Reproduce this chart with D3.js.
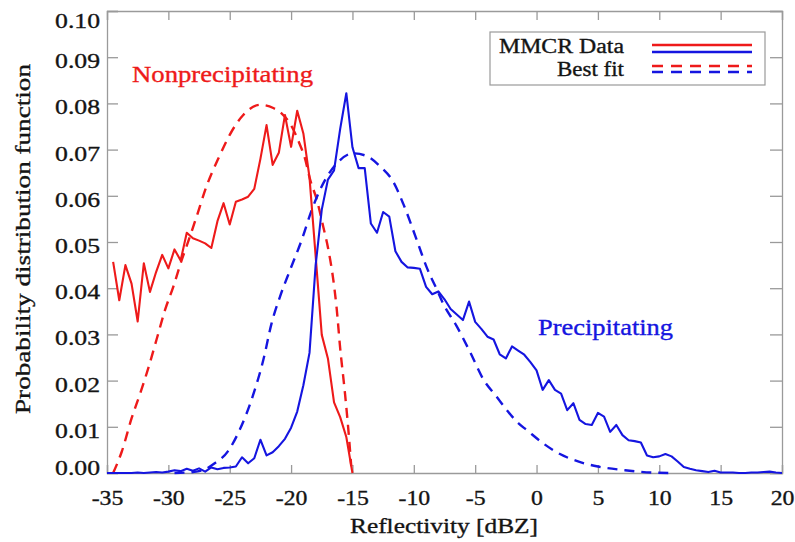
<!DOCTYPE html>
<html><head><meta charset="utf-8">
<script src="https://cdn.jsdelivr.net/npm/d3@7"></script>
<style>
body{margin:0;background:#fff}
svg{display:block}
text{font-family:"Liberation Serif","Times New Roman",serif}
</style>
</head><body>
<svg id="chart" width="795" height="542"></svg>
<script>
// ---- data ----
const xTickValues = [-35,-30,-25,-20,-15,-10,-5,0,5,10,15,20];
const yTickValues = [0,0.01,0.02,0.03,0.04,0.05,0.06,0.07,0.08,0.09,0.10];

const redZ = [-34.5,-34,-33.5,-33,-32.5,-32,-31.5,-31,-30.5,-30,-29.5,-29,-28.5,-28,-27.5,-27,-26.5,-26,-25.5,-25,
  -24.5,-24,-23.5,-23,-22.5,-22,-21.5,-21,-20.5,-20,-19.5,-19,-18.5,-18,-17.5,-17,-16.5,-16,-15.5,-15];
const redPdf = [0.0457,0.0374,0.0450,0.0410,0.0328,0.0454,0.0392,0.0435,0.0472,0.0443,0.0484,0.0460,0.0520,0.0508,0.0503,0.0497,0.0487,0.0545,0.0584,0.0538,
  0.0587,0.0592,0.0598,0.0615,0.0680,0.0753,0.0667,0.0693,0.0775,0.0706,0.0784,0.0735,0.0640,0.0470,0.0299,0.0248,0.0153,0.0121,0.0078,0.0000];

const blueZ = [-35,-34.5,-34,-33.5,-33,-32.5,-32,-31.5,-31,-30.5,-30,-29.5,-29,-28.5,-28,-27.5,-27,-26.5,-26,-25.5,
  -25,-24.5,-24,-23.5,-23,-22.5,-22,-21.5,-21,-20.5,-20,-19.5,-19,-18.5,-18,-17.5,-17,-16.5,-16,-15.5,
  -15,-14.5,-14,-13.5,-13,-12.5,-12,-11.5,-11,-10.5,-10,-9.5,-9,-8.5,-8,-7.5,-7,-6.5,-6,-5.5,
  -5,-4.5,-4,-3.5,-3,-2.5,-2,-1.5,-1,-0.5,0,0.5,1,1.5,2,2.5,3,3.5,4,4.5,
  5,5.5,6,6.5,7,7.5,8,8.5,9,9.5,10,10.5,11,11.5,12,12.5,13,13.5,14,14.5,
  15,15.5,16,16.5,17,17.5,18,18.5,19,19.5,20];
const bluePdf = [0,0,0,0,0,0.0001,0,0.0001,0.0002,0.0001,0.0003,0.0006,0.0004,0.0009,0.0005,0.0010,0.0003,0.0012,0.0008,0.0011,
  0.0012,0.0014,0.0034,0.0021,0.0032,0.0072,0.0038,0.0045,0.0058,0.0074,0.0098,0.0133,0.0190,0.0260,0.0450,0.0570,0.0635,0.0655,0.0745,0.0822,
  0.0705,0.0660,0.0660,0.0540,0.0520,0.0565,0.0555,0.0480,0.0457,0.0445,0.0444,0.0442,0.0403,0.0387,0.0393,0.0376,0.0355,0.0343,0.0331,0.0371,
  0.0327,0.0312,0.0295,0.0289,0.0257,0.0248,0.0274,0.0265,0.0256,0.0240,0.0222,0.0180,0.0201,0.0180,0.0172,0.0136,0.0151,0.0115,0.0106,0.0104,
  0.0130,0.0122,0.0089,0.0104,0.0082,0.0071,0.0069,0.0066,0.0038,0.0034,0.0036,0.0041,0.0036,0.0025,0.0013,0.0009,0.0006,0.0004,0.0002,0.0005,
  0.0001,0.0001,0.0001,0,0,0.0001,0.0001,0.0002,0.0003,0.0001,0];

const redFitZ = [-34.5,-33.8,-33.0,-32.3,-31.6,-30.95,-30.27,-29.6,-28.9,-28.5,-27.7,-26.9,-25.8,-25.0,-23.9,-22.5,-21.45,-20.8,-19.95,-19.27,-18.87,-18.46,-17.9,-17.38,-16.96,-16.56,-16.3,-16.0,-15.6,-15.3,-15.1];
const redFitPdf = [0,0.0046,0.0118,0.0172,0.0230,0.0290,0.0353,0.0403,0.0462,0.0492,0.0555,0.0620,0.0688,0.0732,0.0775,0.0797,0.0790,0.0779,0.0750,0.0710,0.0681,0.0636,0.0591,0.0533,0.0483,0.0418,0.0360,0.0270,0.0170,0.0083,0.0015];

const blueFitZ = [-29.5,-28,-27,-26.34,-25.12,-24.16,-23.08,-22.26,-21.58,-20.9,-20.09,-19.14,-18.32,-17.38,-16.28,-14.93,-13.84,-12.76,-11.67,-10.85,-9.77,-8.95,-8.14,-7.6,-6.51,-5.42,-4.34,-3.25,-2.33,-1.49,-0.8,0.55,1.91,3.38,5.0,7.2,9.4,10.9];
const blueFitPdf = [0,0.0002,0.0008,0.0019,0.0048,0.0095,0.0170,0.0245,0.0325,0.0382,0.0439,0.0504,0.0569,0.0627,0.0670,0.0692,0.0686,0.0664,0.0630,0.0582,0.0505,0.0445,0.0398,0.0366,0.0318,0.0262,0.0203,0.0165,0.0133,0.0108,0.0093,0.0064,0.0041,0.0025,0.0014,0.0006,0.0001,0];

// ---- drawing ----
const svg = d3.select("#chart");
const x = d3.scaleLinear().domain([-35,20]).range([107,782]);
const y = d3.scaleLinear().domain([0,0.1]).range([473,11]);
const RED = "#ee1a1a", BLUE = "#1515e0", AX = "#9a9a9a", INK = "#141414";
const stretch = (sel, w) => sel.attr("textLength", w).attr("lengthAdjust", "spacingAndGlyphs");
const heavy = (sel, c) => sel.attr("stroke", c).attr("stroke-width", 0.35);

svg.append("rect").attr("width",795).attr("height",542).attr("fill","#fff");

// mirrored axes (ticks inward)
const gB = svg.append("g").attr("transform","translate(0,473)")
  .call(d3.axisBottom(x).tickValues(xTickValues).tickSize(-8).tickPadding(16).tickFormat(d=>d));
const gT = svg.append("g").attr("transform","translate(0,11)")
  .call(d3.axisTop(x).tickValues(xTickValues).tickSize(-9).tickFormat(""));
const gL = svg.append("g").attr("transform","translate(107,0)")
  .call(d3.axisLeft(y).tickValues(yTickValues).tickSize(-11).tickPadding(7).tickFormat(d3.format(".2f")));
const gR = svg.append("g").attr("transform","translate(782,0)")
  .call(d3.axisRight(y).tickValues(yTickValues).tickSize(-12).tickFormat(""));
[gB,gT,gL,gR].forEach(g=>{
  g.selectAll("path.domain").attr("stroke",AX).attr("stroke-width",1.3);
  g.selectAll(".tick line").attr("stroke",AX).attr("stroke-width",1.3);
  heavy(g.selectAll("text").attr("fill",INK).style("font-size","22px")
    .style("font-family",'"Liberation Serif","Times New Roman",serif'), INK);
});
gB.selectAll(".tick text").each(function(){ const t=d3.select(this); stretch(t, this.getComputedTextLength()*1.08); });
gL.selectAll(".tick text").each(function(){ stretch(d3.select(this), 45); });
// keep end labels inside like the reference
gL.selectAll(".tick text").attr("dy",null).attr("dominant-baseline","central")
  .attr("y", d => { const py = y(d)+3; return Math.min(Math.max(py,20),466.5) - y(d); });

// lines
const line = (zs,ps,curve) => d3.line().curve(curve||d3.curveLinear).x((d,i)=>x(zs[i])).y((d,i)=>y(ps[i]))(zs);
const plot = svg.append("g");
plot.append("path").attr("d",line(redFitZ,redFitPdf,d3.curveMonotoneX)).attr("fill","none").attr("stroke",RED)
  .attr("stroke-width",2.4).attr("stroke-dasharray","10,7");
plot.append("path").attr("d",line(blueFitZ,blueFitPdf,d3.curveMonotoneX)).attr("fill","none").attr("stroke",BLUE)
  .attr("stroke-width",2.4).attr("stroke-dasharray","10,7");
plot.append("path").attr("d",line(redZ,redPdf)).attr("fill","none").attr("stroke",RED)
  .attr("stroke-width",2.1).attr("stroke-linejoin","round");
plot.append("path").attr("d",line(blueZ,bluePdf)).attr("fill","none").attr("stroke",BLUE)
  .attr("stroke-width",2.1).attr("stroke-linejoin","round");

// annotations
heavy(stretch(svg.append("text").attr("x",132).attr("y",82).attr("fill",RED).style("font-size","23px").text("Nonprecipitating"), 181), RED);
heavy(stretch(svg.append("text").attr("x",538).attr("y",335).attr("fill",BLUE).style("font-size","23px").text("Precipitating"), 135), BLUE);

// legend
const lg = svg.append("g");
lg.append("rect").attr("x",490).attr("y",32).attr("width",275).attr("height",53)
  .attr("fill","#fff").attr("stroke","#9a9a9a").attr("stroke-width",1.2);
heavy(stretch(lg.append("text").attr("x",624).attr("y",53).attr("text-anchor","end").attr("fill",INK).style("font-size","20.5px").text("MMCR Data"), 125), INK);
heavy(stretch(lg.append("text").attr("x",624).attr("y",76).attr("text-anchor","end").attr("fill",INK).style("font-size","20.5px").text("Best fit"), 67), INK);
[[45,RED,null],[52,BLUE,null],[66,RED,"11,8"],[72,BLUE,"11,8"]].forEach(([yy,c,da])=>{
  lg.append("line").attr("x1",652).attr("x2",752).attr("y1",yy).attr("y2",yy)
    .attr("stroke",c).attr("stroke-width",2.4).attr("stroke-dasharray",da);
});

// axis titles
heavy(stretch(svg.append("text").attr("x",444).attr("y",533).attr("text-anchor","middle").attr("fill",INK)
  .style("font-size","22px").text("Reflectivity [dBZ]"), 188), INK);
heavy(stretch(svg.append("text").attr("transform","translate(30,239) rotate(-90)").attr("text-anchor","middle")
  .attr("fill",INK).style("font-size","22px").text("Probability distribution function"), 350), INK);
</script>
</body></html>
